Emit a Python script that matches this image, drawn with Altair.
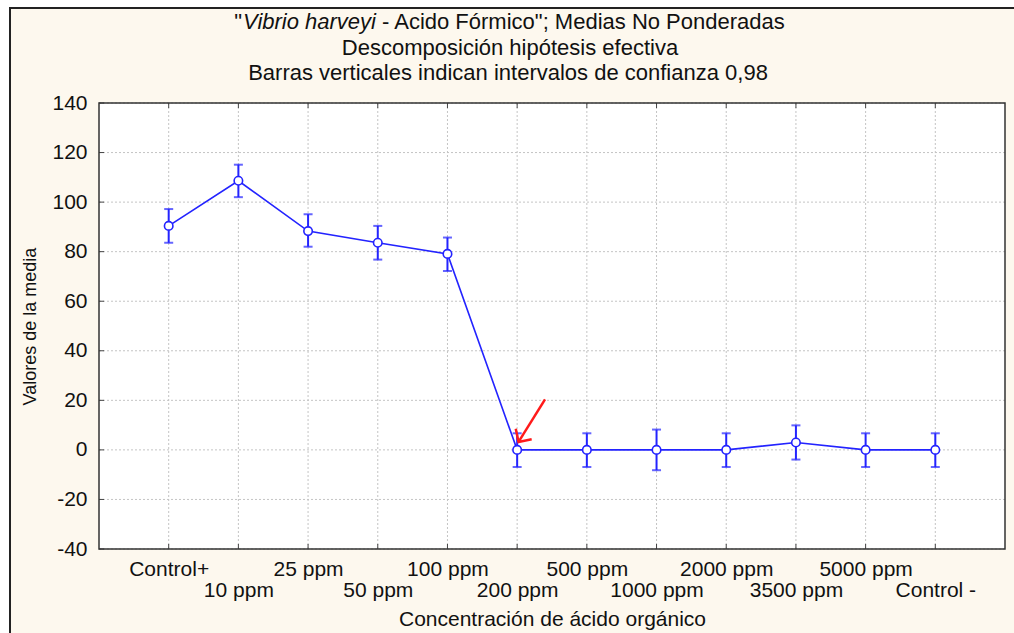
import json
import altair as alt
import pandas as pd

# ---------------- data ----------------
categories = ["Control+", "10 ppm", "25 ppm", "50 ppm", "100 ppm", "200 ppm",
              "500 ppm", "1000 ppm", "2000 ppm", "3500 ppm", "5000 ppm", "Control -"]
means = [90.4, 108.6, 88.3, 83.6, 79.1, 0.0, 0.0, 0.0, 0.0, 3.0, 0.0, 0.0]
lower = [83.6, 102.0, 82.0, 76.8, 72.2, -6.9, -6.9, -8.2, -6.9, -3.9, -6.9, -6.9]
upper = [97.2, 115.1, 95.1, 90.4, 85.7, 6.7, 6.7, 8.2, 6.7, 9.9, 6.7, 6.7]
y_ticks = [-40, -20, 0, 20, 40, 60, 80, 100, 120, 140]
arrow_x = [5.40, 5.02]
arrow_y = [20.4, 3.2]

title1_quote = '"'
title1_italic = "Vibrio harveyi"
title1_rest = '- Acido Fórmico"; Medias No Ponderadas'
title2 = "Descomposición hipótesis efectiva"
title3 = "Barras verticales indican intervalos de confianza 0,98"
x_title = "Concentración de ácido orgánico"
y_title = "Valores de la media"

# ---------------- tables ----------------
idx = list(range(len(categories)))
df = pd.DataFrame({"idx": idx, "cat": categories, "mean": means, "lo": lower, "hi": upper})
df_y = pd.DataFrame({"v": y_ticks})
df_x = pd.DataFrame({"idx": idx})
df_arrow = pd.DataFrame({"x": arrow_x, "y": arrow_y})
df_tip = df_arrow.iloc[[1]]
one = alt.Data(values=[{}])

W, H = 906, 446
PL, PT = 99, 103
FONT = "Liberation Sans"
BLUE = "#2323ff"
RED = "#ff1a1a"
GRID = "#c4c4c4"

names = json.dumps(categories, ensure_ascii=False)
label_expr = f"(datum.value % 2 == 0) ? {names}[datum.value] : ['', {names}[datum.value]]"

xscale = alt.Scale(domain=[-1, len(categories)], nice=False, zero=False)
yscale = alt.Scale(domain=[-40, 140], nice=False, zero=False)
xaxis = alt.Axis(values=idx, labelExpr=label_expr, grid=False, ticks=False, domain=False,
                 title=x_title, labelFontSize=21, labelFont=FONT, labelColor="#111",
                 labelPadding=9, labelLineHeight=21, labelAngle=0, labelOverlap=False,
                 titleFontSize=21, titleFont=FONT, titleFontWeight="normal", titleColor="#111",
                 titlePadding=8, zindex=2)
yaxis = alt.Axis(values=y_ticks, labelExpr="'' + datum.value", grid=False, ticks=False,
                 domain=False, title=y_title,
                 labelFontSize=21, labelFont=FONT, labelColor="#111", labelPadding=12,
                 titleFontSize=18, titleFont=FONT, titleFontWeight="normal", titleColor="#111",
                 titlePadding=12, zindex=2)


def X(f):
    return alt.X(f, type="quantitative", scale=xscale, axis=xaxis)


def Y(f):
    return alt.Y(f, type="quantitative", scale=yscale, axis=yaxis)


# outer cream panel with dark border
panel = alt.Chart(one).mark_rect(fill="#fdf8ee", stroke="#222", strokeWidth=2).encode(
    x=alt.value(10 - PL), x2=alt.value(1030 - PL), y=alt.value(8 - PT), y2=alt.value(650 - PT))
plot_bg = alt.Chart(one).mark_rect(fill="white").encode(
    x=alt.value(0), x2=alt.value(W), y=alt.value(0), y2=alt.value(H))

vgrid = alt.Chart(df_x).mark_rule(color=GRID, strokeDash=[2, 2], strokeWidth=1).encode(
    x=X("idx"), y=alt.value(0), y2=alt.value(H))
hgrid = alt.Chart(df_y).mark_rule(color=GRID, strokeDash=[2, 2], strokeWidth=1).encode(
    y=Y("v"), x=alt.value(0), x2=alt.value(W))

tick_b = alt.Chart(df_x).mark_rule(color="#444", strokeWidth=1).encode(
    x=X("idx"), y=alt.value(H), y2=alt.value(H - 5))
tick_t = alt.Chart(df_x).mark_rule(color="#444", strokeWidth=1).encode(
    x=X("idx"), y=alt.value(0), y2=alt.value(5))
tick_l = alt.Chart(df_y).mark_rule(color="#444", strokeWidth=1).encode(
    y=Y("v"), x=alt.value(0), x2=alt.value(5))

line = alt.Chart(df).mark_line(color=BLUE, strokeWidth=1.6).encode(x=X("idx"), y=Y("mean"))
err = alt.Chart(df).mark_rule(color=BLUE, strokeWidth=2).encode(x=X("idx"), y=Y("lo"), y2="hi")
cap_hi = alt.Chart(df).mark_tick(color=BLUE, thickness=2, size=9, orient="horizontal").encode(
    x=X("idx"), y=Y("hi"))
cap_lo = alt.Chart(df).mark_tick(color=BLUE, thickness=2, size=9, orient="horizontal").encode(
    x=X("idx"), y=Y("lo"))
pts = alt.Chart(df).mark_point(shape="circle", filled=True, fill="white", stroke=BLUE,
                               strokeWidth=1.6, size=72, opacity=1).encode(x=X("idx"), y=Y("mean"))

arrow_line = alt.Chart(df_arrow).mark_line(color=RED, strokeWidth=2.5).encode(
    x=X("x"), y=Y("y"))
arrow_head = alt.Chart(df_tip).mark_point(shape="M -1 -1 L 0 0 L 1 -1", filled=False, stroke=RED,
                                          strokeWidth=2.5, size=360, angle=33, opacity=1).encode(
    x=X("x"), y=Y("y"))

frame = alt.Chart(one).mark_rect(fill=None, stroke="#333", strokeWidth=1.5).encode(
    x=alt.value(0), x2=alt.value(W), y=alt.value(0), y2=alt.value(H))

J = 277  # junction between italic and normal part on line 1 (view coords)
t_style = dict(font=FONT, fontSize=22, color="#111", baseline="middle")
t1a = alt.Chart(one).mark_text(align="right", **t_style).encode(
    x=alt.value(J - 134), y=alt.value(22 - PT), text=alt.value(title1_quote))
t1b = alt.Chart(one).mark_text(align="right", fontStyle="italic", **t_style).encode(
    x=alt.value(J), y=alt.value(22 - PT), text=alt.value(title1_italic))
t1c = alt.Chart(one).mark_text(align="left", **t_style).encode(
    x=alt.value(J + 6), y=alt.value(22 - PT), text=alt.value(title1_rest))
t2 = alt.Chart(one).mark_text(align="center", **t_style).encode(
    x=alt.value(510 - PL), y=alt.value(48 - PT), text=alt.value(title2))
t3 = alt.Chart(one).mark_text(align="center", **t_style).encode(
    x=alt.value(508 - PL), y=alt.value(73 - PT), text=alt.value(title3))

chart = alt.layer(
    panel, plot_bg, vgrid, hgrid, tick_b, tick_t, tick_l,
    line, err, cap_hi, cap_lo, pts, arrow_line, arrow_head, frame,
    t1a, t1b, t1c, t2, t3,
).properties(
    width=W, height=H,
    autosize=alt.AutoSizeParams(type="none"),
    padding={"left": PL, "top": PT, "right": 1014 - PL - W, "bottom": 633 - PT - H},
    background="white",
).configure_view(stroke=None)

chart.save("out.html", embed_options={"renderer": "svg", "actions": False})
